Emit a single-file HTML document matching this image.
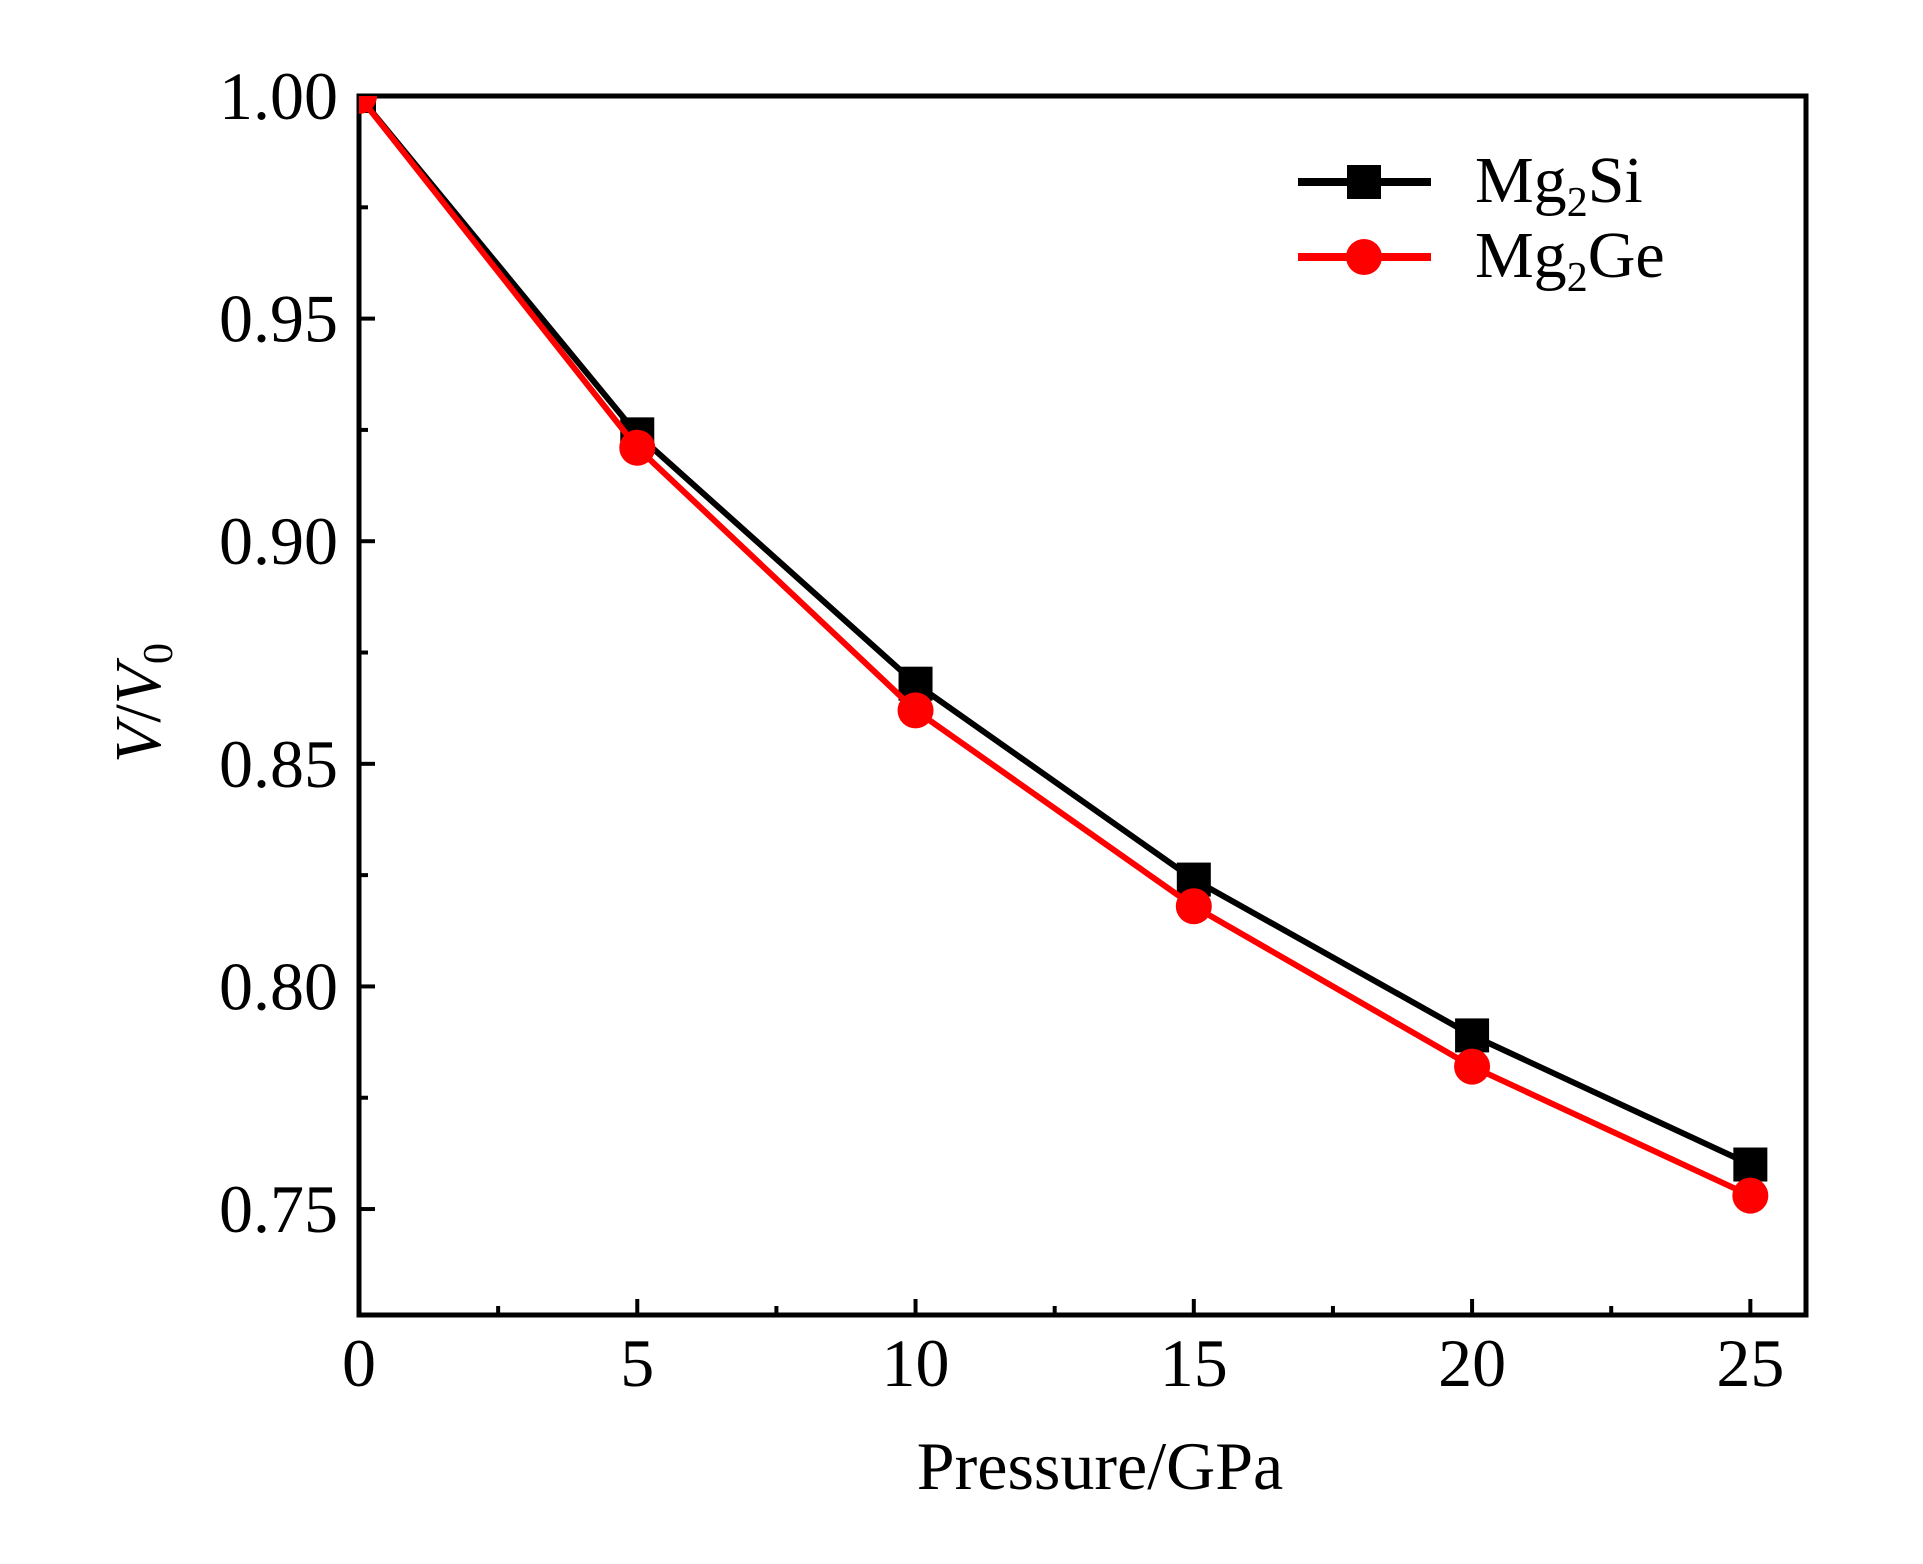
<!DOCTYPE html>
<html><head><meta charset="utf-8"><style>
body{margin:0;background:#fff}
svg text{font-family:"Liberation Serif",serif;fill:#000}
</style></head><body>
<svg width="1923" height="1559" viewBox="0 0 1923 1559" xmlns="http://www.w3.org/2000/svg">
<defs><clipPath id="clip"><rect x="359" y="96" width="1447" height="1219"/></clipPath></defs>
<g id="axes"></g>
<g id="series" clip-path="url(#clip)"></g>
<g>
  <g>
    <line x1="1298" y1="182" x2="1431" y2="182" stroke="#000" stroke-width="8"/>
    <rect x="1347" y="165" width="34" height="34" fill="#000"/>
    <text x="1475" y="202" font-size="66">Mg<tspan font-size="42" dy="14">2</tspan><tspan dy="-14">Si</tspan></text>
  </g>
  <g>
    <line x1="1298" y1="257" x2="1431" y2="257" stroke="#f00" stroke-width="8"/>
    <circle cx="1364" cy="257" r="18" fill="#f00"/>
    <text x="1475" y="277" font-size="66">Mg<tspan font-size="42" dy="14">2</tspan><tspan dy="-14">Ge</tspan></text>
  </g>
</g>
<text x="1100" y="1489" font-size="68" text-anchor="middle">Pressure/GPa</text>
<text transform="translate(160,703) rotate(-90)" font-size="66" text-anchor="middle"><tspan font-style="italic">V</tspan>/<tspan font-style="italic">V</tspan><tspan font-size="42" dy="12">0</tspan></text>
</svg>
<script>
const pressures=[0,5,10,15,20,25];
const mg2si=[1.000,0.924,0.868,0.824,0.789,0.760];
const mg2ge=[1.000,0.921,0.862,0.818,0.782,0.753];
const xTicks=[0,5,10,15,20,25];
const yTicks=[0.75,0.80,0.85,0.90,0.95,1.00];
const L=359,R=1806,T=96,B=1315;
const X0=0,X1=26,Y0=0.7262,Y1=1.0;
const sx=v=>L+(v-X0)/(X1-X0)*(R-L);
const sy=v=>B-(v-Y0)/(Y1-Y0)*(B-T);
const NS='http://www.w3.org/2000/svg';
function mk(t,a,p){const e=document.createElementNS(NS,t);for(const k in a)e.setAttribute(k,a[k]);p.appendChild(e);return e;}
const ax=document.getElementById('axes'),se=document.getElementById('series');
const fr=mk('rect',{x:L,y:T,width:R-L,height:B-T,fill:'none',stroke:'#000','stroke-width':5},ax);


xTicks.forEach(v=>{
 const t=mk('line',{x1:sx(v),x2:sx(v),y1:B,y2:B-16,stroke:'#000','stroke-width':4},ax);
 
 
 if(v+2.5<X1){
 const m=mk('line',{x1:sx(v+2.5),x2:sx(v+2.5),y1:B,y2:B-9,stroke:'#000','stroke-width':4},ax);
 
 
 }
 const l=mk('text',{x:sx(v),y:1386,'font-size':68,'text-anchor':'middle'},ax);
 l.textContent=String(v);
 
 
});
yTicks.forEach(v=>{
 const t=mk('line',{x1:L,x2:L+16,y1:sy(v),y2:sy(v),stroke:'#000','stroke-width':4},ax);
 
 
 const mv=v-0.025;
 if(mv>Y0){
 const m=mk('line',{x1:L,x2:L+9,y1:sy(mv),y2:sy(mv),stroke:'#000','stroke-width':4},ax);
 
 
 }
 const l=mk('text',{x:338,y:sy(v)+23,'font-size':68,'text-anchor':'end'},ax);
 l.textContent=v.toFixed(2);
 
 
});
function draw(vals,color,name,sq){
 const pts=pressures.map((p,i)=>sx(p)+','+sy(vals[i])).join(' ');
 const pl=mk('polyline',{points:pts,fill:'none',stroke:color,'stroke-width':6,'stroke-linejoin':'round'},se);
 
 
 pressures.forEach((p,i)=>{
  let m;
  if(sq) m=mk('rect',{x:sx(p)-17,y:sy(vals[i])-17,width:34,height:34,fill:color},se);
  else m=mk('circle',{cx:sx(p),cy:sy(vals[i]),r:18,fill:color},se);
  
  
 });
}
draw(mg2si,'#000','mg2si',true);
draw(mg2ge,'#f00','mg2ge',false);
</script>
</body></html>
